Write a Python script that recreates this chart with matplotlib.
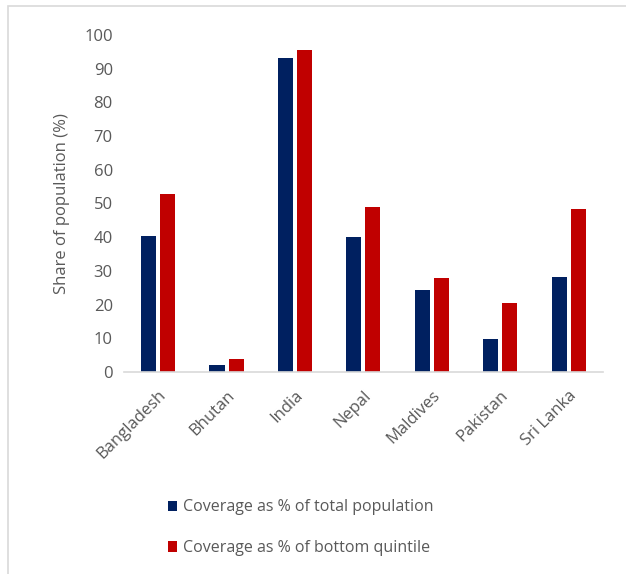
import numpy as np
import matplotlib.pyplot as plt
from matplotlib.patches import Rectangle

countries = ['Bangladesh', 'Bhutan', 'India', 'Nepal', 'Maldives', 'Pakistan', 'Sri Lanka']
total_pop = [40.4, 2.1, 93.2, 40.0, 24.4, 9.9, 28.1]
bottom_q  = [52.8, 3.8, 95.5, 48.9, 27.9, 20.4, 48.3]
series    = ['Coverage as % of total population', 'Coverage as % of bottom quintile']

plt.rcParams['font.family'] = ['Open Sans', 'DejaVu Sans']
grey = '#595959'

fig = plt.figure(figsize=(6.26, 5.74), dpi=100)
ax = fig.add_axes([0.198, 0.352, 0.765, 0.587])

x = np.arange(len(countries))
w = 0.22
b1 = ax.bar(x - 0.14, total_pop, w, color='#002060', label=series[0])
b2 = ax.bar(x + 0.14, bottom_q, w, color='#C00000', label=series[1])

ax.set_xlim(-0.5, len(countries) - 0.5)
ax.set_ylim(0, 100)
ax.set_yticks(range(0, 101, 10))
ax.set_xticks(x)
ax.set_xticklabels(countries, rotation=45, ha='right', rotation_mode='anchor')
ax.tick_params(axis='y', length=0, labelsize=12, colors=grey, pad=8)
ax.tick_params(axis='x', length=0, labelsize=12, colors=grey, pad=11)
for s in ['top', 'right', 'left']:
    ax.spines[s].set_visible(False)
ax.spines['bottom'].set_color('#d9d9d9')
ax.spines['bottom'].set_linewidth(1.2)
ax.set_ylabel('Share of population (%)', color=grey, fontsize=12, labelpad=10)

fig.legend(handles=[b1, b2], loc='upper left', bbox_to_anchor=(0.245, 0.155),
           frameon=False, fontsize=11.5, labelcolor=grey, handlelength=0.6,
           handleheight=0.6, handletextpad=0.35, labelspacing=1.55)

# outer chart frame
fig.add_artist(Rectangle((0.013, -0.01), 0.99, 1.0, transform=fig.transFigure,
                         fill=False, edgecolor='#d9d9d9', linewidth=1.2))

fig.savefig('out.png', dpi=100)
